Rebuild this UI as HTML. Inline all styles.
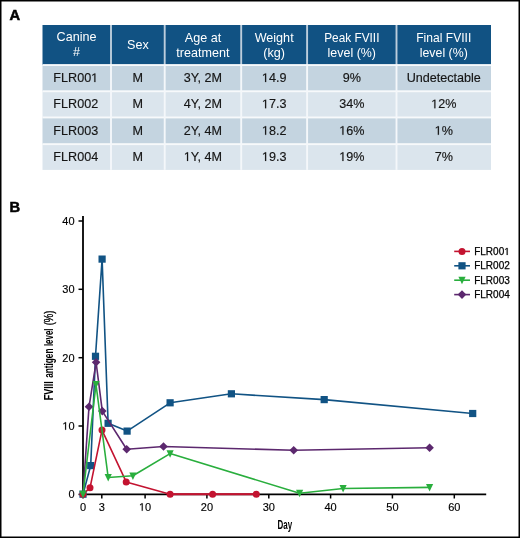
<!DOCTYPE html>
<html><head><meta charset="utf-8"><style>
html,body{margin:0;padding:0;background:#fff;width:520px;height:538px;overflow:hidden;}
svg{display:block;font-family:"Liberation Sans",sans-serif;will-change:transform;}
</style></head><body>
<svg width="520" height="538" viewBox="0 0 520 538" font-family="Liberation Sans, sans-serif" font-size="12.6">
<rect x="0" y="0" width="520" height="538" fill="#fff"/>
<rect x="0.75" y="0.75" width="518.5" height="536.5" fill="none" stroke="#000" stroke-width="1.5"/>
<text transform="translate(9.6,20.2) scale(0.97,1)" font-size="15.2" font-weight="bold" stroke="#000" stroke-width="0.55">A</text>
<text transform="translate(9.6,211.8) scale(0.97,1)" font-size="15.2" font-weight="bold" stroke="#000" stroke-width="0.55">B</text>
<rect x="42.5" y="25" width="448.5" height="40.099999999999994" fill="#115283"/><rect x="42.5" y="65.1" width="448.5" height="26.200000000000003" fill="#c4d4e0"/><rect x="42.5" y="91.3" width="448.5" height="26.200000000000003" fill="#dbe5ed"/><rect x="42.5" y="117.5" width="448.5" height="26.69999999999999" fill="#c4d4e0"/><rect x="42.5" y="144.2" width="448.5" height="25.700000000000017" fill="#dbe5ed"/><rect x="42.5" y="64.1" width="448.5" height="1.9" fill="#f7f9fb"/><rect x="42.5" y="90.3" width="448.5" height="1.9" fill="#f7f9fb"/><rect x="42.5" y="116.5" width="448.5" height="1.9" fill="#f7f9fb"/><rect x="42.5" y="143.2" width="448.5" height="1.9" fill="#f7f9fb"/><rect x="110.05" y="25" width="1.9" height="39.1" fill="#bccddc"/><rect x="110.05" y="64.1" width="1.9" height="105.8" fill="#f4f7fa"/><rect x="163.75" y="25" width="1.9" height="39.1" fill="#bccddc"/><rect x="163.75" y="64.1" width="1.9" height="105.8" fill="#f4f7fa"/><rect x="240.25" y="25" width="1.9" height="39.1" fill="#bccddc"/><rect x="240.25" y="64.1" width="1.9" height="105.8" fill="#f4f7fa"/><rect x="306.15" y="25" width="1.9" height="39.1" fill="#bccddc"/><rect x="306.15" y="64.1" width="1.9" height="105.8" fill="#f4f7fa"/><rect x="395.55" y="25" width="1.9" height="39.1" fill="#bccddc"/><rect x="395.55" y="64.1" width="1.9" height="105.8" fill="#f4f7fa"/><text x="76.55" y="40.8" fill="#fff" text-anchor="middle">Canine</text><text x="76.55" y="55.8" fill="#fff" text-anchor="middle">#</text><text x="137.85" y="48.7" fill="#fff" text-anchor="middle">Sex</text><text x="202.95" y="41.8" fill="#fff" text-anchor="middle">Age at</text><text x="202.95" y="56.8" fill="#fff" text-anchor="middle">treatment</text><text x="274.15" y="41.8" fill="#fff" text-anchor="middle">Weight</text><text x="274.15" y="56.8" fill="#fff" text-anchor="middle">(kg)</text><text x="351.80" y="41.8" fill="#fff" text-anchor="middle" textLength="55.3" lengthAdjust="spacingAndGlyphs">Peak FVIII</text><text x="351.80" y="56.8" fill="#fff" text-anchor="middle" textLength="48.4" lengthAdjust="spacingAndGlyphs">level (%)</text><text x="443.75" y="41.8" fill="#fff" text-anchor="middle" textLength="55.0" lengthAdjust="spacingAndGlyphs">Final FVIII</text><text x="443.75" y="56.8" fill="#fff" text-anchor="middle" textLength="48.0" lengthAdjust="spacingAndGlyphs">level (%)</text><text x="75.75" y="82.1" fill="#151515" stroke="#151515" stroke-width="0.15" text-anchor="middle">FLR00 </text><path transform="translate(91.14,82.10) scale(0.006152,-0.006152)" d="M515,0L696,0L696,1409L530,1409L197,1180L197,1010L515,1237Z" fill="#151515" stroke="#151515" stroke-width="0.15" vector-effect="non-scaling-stroke"/><text x="137.85" y="82.1" fill="#151515" stroke="#151515" stroke-width="0.15" text-anchor="middle">M</text><text x="202.95" y="82.1" fill="#151515" stroke="#151515" stroke-width="0.15" text-anchor="middle">3Y, 2M</text><text x="274.15" y="82.1" fill="#151515" stroke="#151515" stroke-width="0.15" text-anchor="middle"> 4.9</text><path transform="translate(261.89,82.10) scale(0.006152,-0.006152)" d="M515,0L696,0L696,1409L530,1409L197,1180L197,1010L515,1237Z" fill="#151515" stroke="#151515" stroke-width="0.15" vector-effect="non-scaling-stroke"/><text x="351.80" y="82.1" fill="#151515" stroke="#151515" stroke-width="0.15" text-anchor="middle">9%</text><text x="443.75" y="82.1" fill="#151515" stroke="#151515" stroke-width="0.15" text-anchor="middle">Undetectable</text><text x="75.75" y="108.3" fill="#151515" stroke="#151515" stroke-width="0.15" text-anchor="middle">FLR002</text><text x="137.85" y="108.3" fill="#151515" stroke="#151515" stroke-width="0.15" text-anchor="middle">M</text><text x="202.95" y="108.3" fill="#151515" stroke="#151515" stroke-width="0.15" text-anchor="middle">4Y, 2M</text><text x="274.15" y="108.3" fill="#151515" stroke="#151515" stroke-width="0.15" text-anchor="middle"> 7.3</text><path transform="translate(261.89,108.30) scale(0.006152,-0.006152)" d="M515,0L696,0L696,1409L530,1409L197,1180L197,1010L515,1237Z" fill="#151515" stroke="#151515" stroke-width="0.15" vector-effect="non-scaling-stroke"/><text x="351.80" y="108.3" fill="#151515" stroke="#151515" stroke-width="0.15" text-anchor="middle">34%</text><text x="443.75" y="108.3" fill="#151515" stroke="#151515" stroke-width="0.15" text-anchor="middle"> 2%</text><path transform="translate(431.14,108.30) scale(0.006152,-0.006152)" d="M515,0L696,0L696,1409L530,1409L197,1180L197,1010L515,1237Z" fill="#151515" stroke="#151515" stroke-width="0.15" vector-effect="non-scaling-stroke"/><text x="75.75" y="134.8" fill="#151515" stroke="#151515" stroke-width="0.15" text-anchor="middle">FLR003</text><text x="137.85" y="134.8" fill="#151515" stroke="#151515" stroke-width="0.15" text-anchor="middle">M</text><text x="202.95" y="134.8" fill="#151515" stroke="#151515" stroke-width="0.15" text-anchor="middle">2Y, 4M</text><text x="274.15" y="134.8" fill="#151515" stroke="#151515" stroke-width="0.15" text-anchor="middle"> 8.2</text><path transform="translate(261.89,134.80) scale(0.006152,-0.006152)" d="M515,0L696,0L696,1409L530,1409L197,1180L197,1010L515,1237Z" fill="#151515" stroke="#151515" stroke-width="0.15" vector-effect="non-scaling-stroke"/><text x="351.80" y="134.8" fill="#151515" stroke="#151515" stroke-width="0.15" text-anchor="middle"> 6%</text><path transform="translate(339.19,134.80) scale(0.006152,-0.006152)" d="M515,0L696,0L696,1409L530,1409L197,1180L197,1010L515,1237Z" fill="#151515" stroke="#151515" stroke-width="0.15" vector-effect="non-scaling-stroke"/><text x="443.75" y="134.8" fill="#151515" stroke="#151515" stroke-width="0.15" text-anchor="middle"> %</text><path transform="translate(434.65,134.80) scale(0.006152,-0.006152)" d="M515,0L696,0L696,1409L530,1409L197,1180L197,1010L515,1237Z" fill="#151515" stroke="#151515" stroke-width="0.15" vector-effect="non-scaling-stroke"/><text x="75.75" y="161.0" fill="#151515" stroke="#151515" stroke-width="0.15" text-anchor="middle">FLR004</text><text x="137.85" y="161.0" fill="#151515" stroke="#151515" stroke-width="0.15" text-anchor="middle">M</text><text x="202.95" y="161.0" fill="#151515" stroke="#151515" stroke-width="0.15" text-anchor="middle"> Y, 4M</text><path transform="translate(183.81,161.00) scale(0.006152,-0.006152)" d="M515,0L696,0L696,1409L530,1409L197,1180L197,1010L515,1237Z" fill="#151515" stroke="#151515" stroke-width="0.15" vector-effect="non-scaling-stroke"/><text x="274.15" y="161.0" fill="#151515" stroke="#151515" stroke-width="0.15" text-anchor="middle"> 9.3</text><path transform="translate(261.89,161.00) scale(0.006152,-0.006152)" d="M515,0L696,0L696,1409L530,1409L197,1180L197,1010L515,1237Z" fill="#151515" stroke="#151515" stroke-width="0.15" vector-effect="non-scaling-stroke"/><text x="351.80" y="161.0" fill="#151515" stroke="#151515" stroke-width="0.15" text-anchor="middle"> 9%</text><path transform="translate(339.19,161.00) scale(0.006152,-0.006152)" d="M515,0L696,0L696,1409L530,1409L197,1180L197,1010L515,1237Z" fill="#151515" stroke="#151515" stroke-width="0.15" vector-effect="non-scaling-stroke"/><text x="443.75" y="161.0" fill="#151515" stroke="#151515" stroke-width="0.15" text-anchor="middle">7%</text>
<line x1="83" y1="216" x2="83" y2="495" stroke="#000" stroke-width="1.8"/><line x1="82.1" y1="494.4" x2="486.2" y2="494.4" stroke="#000" stroke-width="1.6"/><line x1="78.5" x2="83" y1="494.4" y2="494.4" stroke="#000" stroke-width="1.5"/><text x="74.6" y="498.2" text-anchor="end" font-size="11" stroke="#000" stroke-width="0.15">0</text><line x1="78.5" x2="83" y1="426.0" y2="426.0" stroke="#000" stroke-width="1.5"/><text x="74.6" y="429.8" text-anchor="end" font-size="11" stroke="#000" stroke-width="0.15"> 0</text><path transform="translate(62.35,429.80) scale(0.005371,-0.005371)" d="M515,0L696,0L696,1409L530,1409L197,1180L197,1010L515,1237Z" fill="#000" stroke="#000" stroke-width="0.15" vector-effect="non-scaling-stroke"/><line x1="78.5" x2="83" y1="357.7" y2="357.7" stroke="#000" stroke-width="1.5"/><text x="74.6" y="361.5" text-anchor="end" font-size="11" stroke="#000" stroke-width="0.15">20</text><line x1="78.5" x2="83" y1="289.3" y2="289.3" stroke="#000" stroke-width="1.5"/><text x="74.6" y="293.1" text-anchor="end" font-size="11" stroke="#000" stroke-width="0.15">30</text><line x1="78.5" x2="83" y1="221.0" y2="221.0" stroke="#000" stroke-width="1.5"/><text x="74.6" y="224.8" text-anchor="end" font-size="11" stroke="#000" stroke-width="0.15">40</text><line x1="83.0" x2="83.0" y1="494.3" y2="498.5" stroke="#000" stroke-width="1.5"/><text x="83.0" y="510.8" text-anchor="middle" font-size="11" stroke="#000" stroke-width="0.15">0</text><line x1="101.8" x2="101.8" y1="494.3" y2="498.5" stroke="#000" stroke-width="1.5"/><text x="101.8" y="510.8" text-anchor="middle" font-size="11" stroke="#000" stroke-width="0.15">3</text><line x1="145.1" x2="145.1" y1="494.3" y2="498.5" stroke="#000" stroke-width="1.5"/><text x="145.1" y="510.8" text-anchor="middle" font-size="11" stroke="#000" stroke-width="0.15"> 0</text><path transform="translate(138.98,510.80) scale(0.005371,-0.005371)" d="M515,0L696,0L696,1409L530,1409L197,1180L197,1010L515,1237Z" fill="#000" stroke="#000" stroke-width="0.15" vector-effect="non-scaling-stroke"/><line x1="206.9" x2="206.9" y1="494.3" y2="498.5" stroke="#000" stroke-width="1.5"/><text x="206.9" y="510.8" text-anchor="middle" font-size="11" stroke="#000" stroke-width="0.15">20</text><line x1="268.8" x2="268.8" y1="494.3" y2="498.5" stroke="#000" stroke-width="1.5"/><text x="268.8" y="510.8" text-anchor="middle" font-size="11" stroke="#000" stroke-width="0.15">30</text><line x1="330.6" x2="330.6" y1="494.3" y2="498.5" stroke="#000" stroke-width="1.5"/><text x="330.6" y="510.8" text-anchor="middle" font-size="11" stroke="#000" stroke-width="0.15">40</text><line x1="392.4" x2="392.4" y1="494.3" y2="498.5" stroke="#000" stroke-width="1.5"/><text x="392.4" y="510.8" text-anchor="middle" font-size="11" stroke="#000" stroke-width="0.15">50</text><line x1="454.3" x2="454.3" y1="494.3" y2="498.5" stroke="#000" stroke-width="1.5"/><text x="454.3" y="510.8" text-anchor="middle" font-size="11" stroke="#000" stroke-width="0.15">60</text><text x="277.6" y="528.6" font-size="13" font-weight="bold" textLength="14.6" lengthAdjust="spacingAndGlyphs">Day</text><text transform="translate(53.3,400.3) rotate(-90)" font-size="13" font-weight="bold" textLength="19.0" lengthAdjust="spacingAndGlyphs">FVIII</text><text transform="translate(53.3,377.8) rotate(-90)" font-size="13" font-weight="bold" textLength="29.2" lengthAdjust="spacingAndGlyphs">antigen</text><text transform="translate(53.3,346.1) rotate(-90)" font-size="13" font-weight="bold" textLength="17.6" lengthAdjust="spacingAndGlyphs">level</text><text transform="translate(53.3,325.3) rotate(-90)" font-size="13" font-weight="normal" textLength="14.8" lengthAdjust="spacingAndGlyphs" stroke="#000" stroke-width="0.35">(%)</text>
<polyline points="83.0,494.2 90.7,465.6 95.5,356.3 102.1,259.1 108.1,423.3 127.1,431.1 170.1,402.8 231.4,393.8 324.2,399.6 472.7,413.5" fill="none" stroke="#115384" stroke-width="1.6" stroke-linejoin="round"/><rect x="79.4" y="490.6" width="7.2" height="7.2" fill="#115384"/><rect x="87.1" y="462.0" width="7.2" height="7.2" fill="#115384"/><rect x="91.9" y="352.7" width="7.2" height="7.2" fill="#115384"/><rect x="98.5" y="255.5" width="7.2" height="7.2" fill="#115384"/><rect x="104.5" y="419.7" width="7.2" height="7.2" fill="#115384"/><rect x="123.5" y="427.5" width="7.2" height="7.2" fill="#115384"/><rect x="166.5" y="399.2" width="7.2" height="7.2" fill="#115384"/><rect x="227.8" y="390.2" width="7.2" height="7.2" fill="#115384"/><rect x="320.6" y="396.0" width="7.2" height="7.2" fill="#115384"/><rect x="469.1" y="409.9" width="7.2" height="7.2" fill="#115384"/><polyline points="83.0,494.2 90.0,487.8 102.0,430.1 126.2,481.9 170.1,494.2 212.6,494.2 256.3,494.2" fill="none" stroke="#c31330" stroke-width="1.6" stroke-linejoin="round"/><line x1="170.1" x2="256.3" y1="494.3" y2="494.3" stroke="#c31330" stroke-width="2"/><circle cx="83" cy="494.2" r="3.5" fill="#c31330"/><circle cx="90" cy="487.8" r="3.5" fill="#c31330"/><circle cx="102" cy="430.1" r="3.5" fill="#c31330"/><circle cx="126.2" cy="481.9" r="3.5" fill="#c31330"/><circle cx="170.1" cy="494.2" r="3.5" fill="#c31330"/><circle cx="212.6" cy="494.2" r="3.5" fill="#c31330"/><circle cx="256.3" cy="494.2" r="3.5" fill="#c31330"/><polyline points="83.0,494.2 89.0,406.8 96.1,362.3 102.3,411.1 126.7,449.3 163.5,446.5 293.7,450.3 429.6,447.7" fill="none" stroke="#5c286e" stroke-width="1.6" stroke-linejoin="round"/><path d="M89.0,402.5L93.3,406.8L89.0,411.1L84.7,406.8Z" fill="#5c286e"/><path d="M96.1,358.0L100.4,362.3L96.1,366.6L91.8,362.3Z" fill="#5c286e"/><path d="M102.3,406.8L106.6,411.1L102.3,415.4L98.0,411.1Z" fill="#5c286e"/><path d="M126.7,445.0L131.0,449.3L126.7,453.6L122.4,449.3Z" fill="#5c286e"/><path d="M163.5,442.2L167.8,446.5L163.5,450.8L159.2,446.5Z" fill="#5c286e"/><path d="M293.7,446.0L298.0,450.3L293.7,454.6L289.4,450.3Z" fill="#5c286e"/><path d="M429.6,443.4L433.9,447.7L429.6,452.0L425.3,447.7Z" fill="#5c286e"/><polyline points="83.0,494.2 96.0,384.5 108.2,477.5 132.9,475.8 170.1,453.6 299.6,493.2 343.1,488.5 429.6,487.4" fill="none" stroke="#29ae3d" stroke-width="1.6" stroke-linejoin="round"/><path d="M79.4,490.8L86.6,490.8L83.0,498.3Z" fill="#29ae3d"/><path d="M92.4,381.1L99.6,381.1L96.0,388.6Z" fill="#29ae3d"/><path d="M104.6,474.1L111.8,474.1L108.2,481.6Z" fill="#29ae3d"/><path d="M129.3,472.4L136.5,472.4L132.9,479.9Z" fill="#29ae3d"/><path d="M166.5,450.2L173.7,450.2L170.1,457.7Z" fill="#29ae3d"/><path d="M296.0,489.8L303.2,489.8L299.6,497.3Z" fill="#29ae3d"/><path d="M339.5,485.1L346.7,485.1L343.1,492.6Z" fill="#29ae3d"/><path d="M426.0,484.0L433.2,484.0L429.6,491.5Z" fill="#29ae3d"/>
<line x1="454.2" x2="470" y1="251.4" y2="251.4" stroke="#c31330" stroke-width="1.6"/><circle cx="462" cy="251.4" r="3.5" fill="#c31330"/><text x="474.2" y="254.9" font-size="10" stroke="#000" stroke-width="0.25">FLR00 </text><path transform="translate(504.20,254.90) scale(0.004883,-0.004883)" d="M515,0L696,0L696,1409L530,1409L197,1180L197,1010L515,1237Z" fill="#000" stroke="#000" stroke-width="0.25" vector-effect="non-scaling-stroke"/><line x1="454.2" x2="470" y1="265.8" y2="265.8" stroke="#115384" stroke-width="1.6"/><rect x="458.4" y="262.2" width="7.2" height="7.2" fill="#115384"/><text x="474.2" y="269.3" font-size="10" stroke="#000" stroke-width="0.25">FLR002</text><line x1="454.2" x2="470" y1="280.2" y2="280.2" stroke="#29ae3d" stroke-width="1.6"/><path d="M458.4,276.8L465.6,276.8L462.0,284.3Z" fill="#29ae3d"/><text x="474.2" y="283.7" font-size="10" stroke="#000" stroke-width="0.25">FLR003</text><line x1="454.2" x2="470" y1="294.6" y2="294.6" stroke="#5c286e" stroke-width="1.6"/><path d="M462.0,290.3L466.3,294.6L462.0,298.9L457.7,294.6Z" fill="#5c286e"/><text x="474.2" y="298.1" font-size="10" stroke="#000" stroke-width="0.25">FLR004</text>
</svg>
</body></html>
